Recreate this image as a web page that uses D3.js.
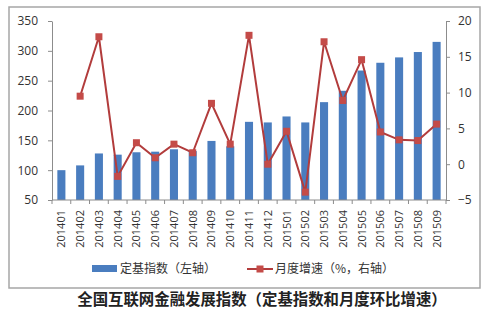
<!DOCTYPE html>
<html>
<head>
<meta charset="utf-8">
<script src="https://cdn.jsdelivr.net/npm/d3@7/dist/d3.min.js"></script>
<style>
  html, body { margin: 0; padding: 0; background: #fff; }
  svg { display: block; }
</style>
</head>
<body>
<svg id="chart" width="500" height="324"></svg>
<script>
// Months (categories)
const months = ["201401","201402","201403","201404","201405","201406","201407",
  "201408","201409","201410","201411","201412","201501","201502","201503",
  "201504","201505","201506","201507","201508","201509"];
// Fixed-base index (left axis)
const baseIndex = [100, 108, 128, 126, 130, 131, 135, 132, 149, 140, 181,
  180, 190, 180, 214, 233, 267, 280, 289, 298, 315];
// Month-on-month growth, % (right axis); no value for the first month
const monthlyGrowth = [null, 9.5, 17.8, -1.7, 3.0, 0.9, 2.8, 1.6, 8.5, 2.8, 18.0,
  0.0, 4.6, -3.9, 17.1, 8.9, 14.6, 4.5, 3.4, 3.3, 5.6];
// Axis ticks
const leftTicks = [50, 100, 150, 200, 250, 300, 350];
const rightTicks = [-5, 0, 5, 10, 15, 20];
// Texts
const barLabel = "定基指数（左轴）";
const lineLabel = "月度增速（%，右轴）";
const title = "全国互联网金融发展指数（定基指数和月度环比增速）";

const svg = d3.select("#chart");
const plotLeft = 52, plotRight = 446, plotTop = 21, plotBottom = 200;
const font = "'Open Sans', 'Noto Sans CJK SC', sans-serif";
const cjk = "'Noto Sans CJK SC', sans-serif";

// Outer frame
svg.append("rect").attr("x", 9).attr("y", 7).attr("width", 471).attr("height", 281)
  .attr("fill", "#fff").attr("stroke", "#a6a6a6").attr("stroke-width", 1.5);

const x = d3.scaleBand().domain(months).range([plotLeft, plotRight])
  .paddingInner(0.57).paddingOuter(0.285);
const yL = d3.scaleLinear().domain([50, 350]).range([plotBottom, plotTop]);
const yR = d3.scaleLinear().domain([-5, 20]).range([plotBottom, plotTop]);

// Bars
svg.append("g").selectAll("rect").data(months).join("rect")
  .attr("x", d => x(d))
  .attr("width", x.bandwidth())
  .attr("y", (d, i) => yL(baseIndex[i]))
  .attr("height", (d, i) => yL(50) - yL(baseIndex[i]))
  .attr("fill", "#4a7dbf");

// Growth line
const pts = months.map((m, i) => ({ m, v: monthlyGrowth[i] })).filter(p => p.v !== null);
const line = d3.line().x(p => x(p.m) + x.bandwidth() / 2).y(p => yR(p.v));
svg.append("path").datum(pts).attr("d", line)
  .attr("fill", "none").attr("stroke", "#b23c3c").attr("stroke-width", 2);
svg.append("g").selectAll("rect").data(pts).join("rect")
  .attr("x", p => x(p.m) + x.bandwidth() / 2 - 3.5)
  .attr("y", p => yR(p.v) - 3.5)
  .attr("width", 7).attr("height", 7)
  .attr("fill", "#c44b48");

// Left axis
const gL = svg.append("g").attr("transform", `translate(${plotLeft},0)`)
  .call(d3.axisLeft(yL).tickValues(leftTicks).tickSize(4).tickSizeOuter(0).tickPadding(10));
// Right axis
const gR = svg.append("g").attr("transform", `translate(${plotRight},0)`)
  .call(d3.axisRight(yR).tickValues(rightTicks).tickSize(4).tickSizeOuter(0).tickPadding(8));
[gL, gR].forEach(g => {
  g.selectAll("path, line").attr("stroke", "#8c8c8c");
  g.selectAll("text").attr("font-family", font).attr("font-size", 12).attr("fill", "#333");
});

// Category axis: baseline, boundary ticks, rotated labels
const gX = svg.append("g").attr("transform", `translate(0,${plotBottom})`);
gX.append("line").attr("x1", plotLeft).attr("x2", plotRight).attr("stroke", "#8c8c8c");
const step = x.step();
gX.selectAll("line.tk").data(d3.range(months.length + 1)).join("line")
  .attr("class", "tk")
  .attr("x1", i => plotLeft + i * step).attr("x2", i => plotLeft + i * step)
  .attr("y1", 0).attr("y2", 4).attr("stroke", "#8c8c8c");
gX.selectAll("text").data(months).join("text")
  .attr("transform", d => `translate(${x(d) + x.bandwidth() / 2 + 4},10) rotate(-90)`)
  .attr("text-anchor", "end")
  .attr("font-family", font).attr("font-size", 11).attr("fill", "#333")
  .text(d => d);

// Legend
const lg = svg.append("g");
lg.append("rect").attr("x", 92).attr("y", 265).attr("width", 25).attr("height", 7).attr("fill", "#4a7dbf");
lg.append("text").attr("x", 120).attr("y", 273).attr("font-family", cjk).attr("font-size", 12)
  .attr("fill", "#333").text(barLabel);
lg.append("line").attr("x1", 247).attr("x2", 273).attr("y1", 269).attr("y2", 269)
  .attr("stroke", "#b23c3c").attr("stroke-width", 2);
lg.append("rect").attr("x", 256.5).attr("y", 265.5).attr("width", 7).attr("height", 7).attr("fill", "#c44b48");
lg.append("text").attr("x", 275).attr("y", 273).attr("font-family", cjk).attr("font-size", 12)
  .attr("fill", "#333").text(lineLabel);

// Title
svg.append("text").attr("x", 262).attr("y", 305).attr("text-anchor", "middle")
  .attr("font-family", cjk).attr("font-size", 15.4).attr("font-weight", "bold")
  .attr("fill", "#222").text(title);
</script>
</body>
</html>
